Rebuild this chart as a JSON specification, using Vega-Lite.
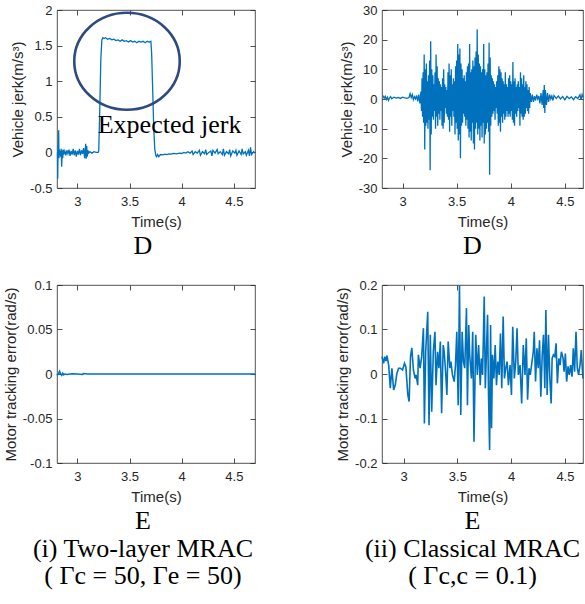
{
  "$schema": "https://vega.github.io/schema/vega-lite/v6.json",
  "padding": {"left": 2, "top": 3, "right": 0, "bottom": 0},
  "background": "white",
  "config": {
    "view": {"stroke": "#262626", "strokeWidth": 0.8},
    "axis": {"grid": false, "domain": false, "tickColor": "#262626", "tickSize": -5, "tickWidth": 0.8,
      "labelFont": "Liberation Sans", "labelFontSize": 13, "labelColor": "#262626",
      "titleFont": "Liberation Sans", "titleFontSize": 15, "titleFontWeight": "normal", "titleColor": "#262626",
      "titlePadding": 6, "format": "~r", "labelExpr": "replace(datum.label, '\u2212', '-')"},
    "axisX": {"labelPadding": 12},
    "axisY": {"labelPadding": 10, "titlePadding": 4},
    "title": {"font": "Liberation Serif", "fontSize": 26, "fontWeight": "normal", "color": "#000000", "orient": "bottom", "anchor": "middle", "offset": 4, "lineHeight": 28,
      "subtitleFont": "Liberation Serif", "subtitleFontSize": 26, "subtitleColor": "#000000", "subtitlePadding": 1},
    "line": {"color": "#0072BD", "strokeWidth": 1.3}
  },
  "datasets": {
    "jerkA": [
      {"t":2.810,"v":0.00},{"t":2.812,"v":-0.37},{"t":2.815,"v":0.10},{"t":2.818,"v":-0.05},{"t":2.821,"v":0.31},{"t":2.824,"v":-0.08},{"t":2.828,"v":0.04},{"t":2.832,"v":-0.02},{"t":2.836,"v":0.02},{"t":2.840,"v":-0.06},{"t":2.845,"v":0.05},{"t":2.850,"v":-0.20},{"t":2.855,"v":0.03},{"t":2.860,"v":-0.08},{"t":2.865,"v":0.04},{"t":2.870,"v":-0.03},{"t":2.880,"v":0.02},{"t":2.890,"v":-0.04},{"t":2.900,"v":0.03},{"t":2.910,"v":-0.02},{"t":2.920,"v":0.04},{"t":2.930,"v":-0.05},{"t":2.940,"v":0.02},{"t":2.950,"v":-0.03},{"t":2.960,"v":0.05},{"t":2.970,"v":-0.04},{"t":2.980,"v":0.03},{"t":2.990,"v":-0.06},{"t":3.000,"v":0.02},{"t":3.010,"v":-0.03},{"t":3.020,"v":0.05},{"t":3.030,"v":-0.04},{"t":3.040,"v":0.03},{"t":3.050,"v":-0.02},{"t":3.060,"v":0.06},{"t":3.070,"v":-0.08},{"t":3.080,"v":0.12},{"t":3.085,"v":-0.09},{"t":3.090,"v":0.09},{"t":3.095,"v":-0.06},{"t":3.100,"v":0.03},{"t":3.110,"v":-0.01},{"t":3.120,"v":0.01},{"t":3.140,"v":-0.01},{"t":3.160,"v":0.01},{"t":3.180,"v":0.00},{"t":3.200,"v":0.00},{"t":3.205,"v":0.02},{"t":3.215,"v":0.60},{"t":3.225,"v":1.30},{"t":3.235,"v":1.58},{"t":3.245,"v":1.61},{"t":3.255,"v":1.60},{"t":3.27,"v":1.61},{"t":3.29,"v":1.59},{"t":3.31,"v":1.60},{"t":3.33,"v":1.58},{"t":3.35,"v":1.59},{"t":3.37,"v":1.57},{"t":3.39,"v":1.58},{"t":3.41,"v":1.56},{"t":3.43,"v":1.58},{"t":3.45,"v":1.56},{"t":3.47,"v":1.57},{"t":3.49,"v":1.55},{"t":3.51,"v":1.57},{"t":3.53,"v":1.55},{"t":3.55,"v":1.56},{"t":3.57,"v":1.54},{"t":3.59,"v":1.56},{"t":3.61,"v":1.55},{"t":3.63,"v":1.56},{"t":3.65,"v":1.54},{"t":3.67,"v":1.56},{"t":3.69,"v":1.55},{"t":3.705,"v":1.56},{"t":3.712,"v":1.40},{"t":3.722,"v":0.90},{"t":3.732,"v":0.35},{"t":3.742,"v":0.05},{"t":3.752,"v":-0.04},{"t":3.76,"v":-0.06},{"t":3.77,"v":-0.03},{"t":3.78,"v":-0.06},{"t":3.79,"v":-0.04},{"t":3.80,"v":-0.03},{"t":3.82,"v":-0.035},{"t":3.84,"v":-0.025},{"t":3.86,"v":-0.03},{"t":3.88,"v":-0.02},{"t":3.90,"v":-0.025},{"t":3.92,"v":-0.015},{"t":3.95,"v":-0.02},{"t":3.98,"v":-0.01},{"t":4.00,"v":-0.015},{"t":4.02,"v":0.00},{"t":4.04,"v":-0.01},{"t":4.06,"v":0.01},
      {"t":4.08,"v":-0.01},{"t":4.10,"v":0.02},{"t":4.11,"v":-0.03},{"t":4.13,"v":0.01},{"t":4.15,"v":-0.01},{"t":4.17,"v":0.03},{"t":4.18,"v":-0.04},{"t":4.20,"v":0.01},{"t":4.22,"v":-0.02},{"t":4.23,"v":0.04},{"t":4.24,"v":-0.03},{"t":4.26,"v":0.0},{"t":4.28,"v":0.02},{"t":4.29,"v":-0.05},{"t":4.30,"v":0.03},{"t":4.32,"v":-0.01},{"t":4.34,"v":0.04},{"t":4.35,"v":-0.02},{"t":4.37,"v":0.01},{"t":4.39,"v":-0.03},{"t":4.40,"v":0.05},{"t":4.41,"v":-0.04},{"t":4.43,"v":0.01},{"t":4.45,"v":-0.02},{"t":4.46,"v":0.04},{"t":4.47,"v":-0.05},{"t":4.49,"v":0.02},{"t":4.51,"v":-0.01},{"t":4.52,"v":0.03},{"t":4.53,"v":-0.04},{"t":4.55,"v":0.02},{"t":4.57,"v":-0.03},{"t":4.58,"v":0.05},{"t":4.59,"v":-0.02},{"t":4.61,"v":0.01},{"t":4.62,"v":-0.04},{"t":4.64,"v":0.03},{"t":4.65,"v":-0.05},{"t":4.66,"v":0.07},{"t":4.67,"v":-0.03},{"t":4.69,"v":0.01},{"t":4.70,"v":-0.01}
    ],
    "jerkB": [
      {"t":2.816,"v":1.2},{"t":2.83,"v":0.3},{"t":2.84,"v":0.9},{"t":2.85,"v":-0.2},{"t":2.86,"v":0.6},{"t":2.87,"v":-0.5},{"t":2.88,"v":0.4},{"t":2.89,"v":0.8},{"t":2.90,"v":0.1},{"t":2.92,"v":0.6},{"t":2.94,"v":0.3},{"t":2.96,"v":0.5},{"t":2.98,"v":0.2},{"t":3.00,"v":0.6},{"t":3.02,"v":0.4},{"t":3.04,"v":0.2},{"t":3.06,"v":0.5},{"t":3.07,"v":1.8},{"t":3.08,"v":0.5},{"t":3.09,"v":1.5},{"t":3.10,"v":-0.2},{"t":3.11,"v":0.8},{"t":3.12,"v":0.0},{"t":3.13,"v":1.2},{"t":3.14,"v":-0.8},{"t":3.15,"v":1.5},{"t":3.16,"v":-1.5},{"t":3.17,"v":2.5},{"t":3.175,"v":-4},{"t":3.18,"v":7},{"t":3.185,"v":-6},{"t":3.19,"v":9},{"t":3.195,"v":-8},{"t":3.20,"v":15},{"t":3.205,"v":-17},{"t":3.21,"v":10},{"t":3.215,"v":-9},{"t":3.22,"v":12},{"t":3.225,"v":-8},{"t":3.23,"v":6},{"t":3.235,"v":-10},{"t":3.24,"v":8},{"t":3.245,"v":-7},{"t":3.25,"v":13},{"t":3.255,"v":-24},{"t":3.26,"v":19.5},{"t":3.265,"v":-12},{"t":3.27,"v":10},{"t":3.275,"v":-6},{"t":3.28,"v":8},{"t":3.285,"v":-7},{"t":3.29,"v":5},{"t":3.295,"v":-4},{"t":3.30,"v":9},{"t":3.305,"v":-10},{"t":3.31,"v":15},{"t":3.315,"v":-6},{"t":3.32,"v":11},{"t":3.325,"v":-9},{"t":3.33,"v":7},{"t":3.335,"v":-5},{"t":3.34,"v":6},{"t":3.345,"v":-7},{"t":3.35,"v":5},{"t":3.355,"v":-4},{"t":3.36,"v":4},{"t":3.365,"v":-9},{"t":3.37,"v":7},{"t":3.375,"v":-10},{"t":3.38,"v":10},{"t":3.385,"v":-8},{"t":3.39,"v":5},{"t":3.395,"v":-3},{"t":3.40,"v":4},{"t":3.405,"v":-5},{"t":3.41,"v":3},{"t":3.415,"v":-6},{"t":3.42,"v":9},{"t":3.425,"v":-7},{"t":3.43,"v":12},{"t":3.435,"v":-11},{"t":3.44,"v":8},{"t":3.445,"v":-6},{"t":3.45,"v":10},{"t":3.455,"v":-9},{"t":3.46,"v":5},{"t":3.465,"v":-4},{"t":3.47,"v":7},{"t":3.475,"v":-6},{"t":3.48,"v":6},{"t":3.485,"v":-12},{"t":3.49,"v":11},{"t":3.495,"v":-8},{"t":3.50,"v":13},{"t":3.505,"v":-10},{"t":3.51,"v":18.5},{"t":3.515,"v":-14},{"t":3.52,"v":15},{"t":3.525,"v":-12},{"t":3.53,"v":17},{"t":3.535,"v":-20},{"t":3.54,"v":12},{"t":3.545,"v":-9},{"t":3.55,"v":10},{"t":3.555,"v":-8},{"t":3.56,"v":7},{"t":3.565,"v":-5},{"t":3.57,"v":8},{"t":3.575,"v":-6},{"t":3.58,"v":6},{"t":3.585,"v":-9},{"t":3.59,"v":9},{"t":3.595,"v":-7},{"t":3.60,"v":11},{"t":3.605,"v":-10},{"t":3.61,"v":12},{"t":3.615,"v":-13},{"t":3.62,"v":18.5},{"t":3.625,"v":-11},{"t":3.63,"v":9},{"t":3.635,"v":-14},{"t":3.64,"v":10},{"t":3.645,"v":-8},{"t":3.65,"v":13},{"t":3.655,"v":-15},{"t":3.66,"v":11},{"t":3.665,"v":-17},{"t":3.67,"v":14},{"t":3.675,"v":-10},{"t":3.68,"v":16},{"t":3.685,"v":-8},{"t":3.69,"v":23.5},{"t":3.695,"v":-12},{"t":3.70,"v":15},{"t":3.705,"v":-10},{"t":3.71,"v":12},{"t":3.715,"v":-14},{"t":3.72,"v":11},{"t":3.725,"v":-9},{"t":3.73,"v":9},{"t":3.735,"v":-13},{"t":3.74,"v":10},{"t":3.745,"v":-8},{"t":3.75,"v":18.5},{"t":3.755,"v":-15},{"t":3.76,"v":10},{"t":3.765,"v":-12},{"t":3.77,"v":8},{"t":3.775,"v":-10},{"t":3.78,"v":9},{"t":3.785,"v":-8},{"t":3.79,"v":12},{"t":3.795,"v":-11},{"t":3.80,"v":19},{"t":3.805,"v":-25.5},{"t":3.81,"v":14},{"t":3.815,"v":-9},{"t":3.82,"v":8},{"t":3.825,"v":-6},{"t":3.83,"v":7},{"t":3.835,"v":-5},{"t":3.84,"v":6},{"t":3.845,"v":-4},{"t":3.85,"v":5},{"t":3.855,"v":-7},{"t":3.86,"v":4},{"t":3.865,"v":-3},{"t":3.87,"v":6},{"t":3.875,"v":-5},{"t":3.88,"v":8},{"t":3.885,"v":-9},{"t":3.89,"v":11},{"t":3.895,"v":-8},{"t":3.90,"v":10},{"t":3.905,"v":-11},{"t":3.91,"v":9},{"t":3.915,"v":-6},{"t":3.92,"v":7},{"t":3.925,"v":-8},{"t":3.93,"v":6},{"t":3.935,"v":-5},{"t":3.94,"v":5},{"t":3.945,"v":-7},{"t":3.95,"v":9},{"t":3.955,"v":-6},{"t":3.96,"v":5},{"t":3.965,"v":-4},{"t":3.97,"v":4},{"t":3.975,"v":-6},{"t":3.98,"v":7},{"t":3.985,"v":-5},{"t":3.99,"v":8},{"t":3.995,"v":-6},{"t":4.00,"v":6},{"t":4.005,"v":-4},{"t":4.01,"v":5},{"t":4.015,"v":-7},{"t":4.02,"v":12.5},{"t":4.025,"v":-8},{"t":4.03,"v":6},{"t":4.035,"v":-9},{"t":4.04,"v":7},{"t":4.045,"v":-5},{"t":4.05,"v":4},{"t":4.055,"v":-6},{"t":4.06,"v":5},{"t":4.065,"v":-4},{"t":4.07,"v":6},{"t":4.075,"v":-3},{"t":4.08,"v":4},{"t":4.085,"v":-9},{"t":4.09,"v":9},{"t":4.095,"v":-5},{"t":4.10,"v":7},{"t":4.105,"v":-6},{"t":4.11,"v":5},{"t":4.115,"v":-7},{"t":4.12,"v":8},{"t":4.125,"v":-6},{"t":4.13,"v":4},{"t":4.135,"v":-5},{"t":4.14,"v":6},{"t":4.145,"v":-3},{"t":4.15,"v":5},{"t":4.155,"v":-4},{"t":4.16,"v":3},{"t":4.165,"v":-5},{"t":4.17,"v":4},{"t":4.175,"v":-3},{"t":4.18,"v":2},{"t":4.19,"v":-1},{"t":4.20,"v":1.5},{"t":4.21,"v":-1},{"t":4.22,"v":1},{"t":4.23,"v":-0.5},{"t":4.24,"v":1.5},{"t":4.25,"v":0},{"t":4.26,"v":1},{"t":4.27,"v":-1.5},{"t":4.28,"v":2},{"t":4.29,"v":-2},{"t":4.30,"v":3},{"t":4.305,"v":-3},{"t":4.31,"v":4.7},{"t":4.315,"v":-4.7},{"t":4.32,"v":3},{"t":4.33,"v":-2},{"t":4.34,"v":2},{"t":4.35,"v":-1},{"t":4.36,"v":1.5},{"t":4.37,"v":0},{"t":4.38,"v":1},{"t":4.39,"v":-0.5},{"t":4.40,"v":1.2},{"t":4.42,"v":0.2},{"t":4.44,"v":1},{"t":4.46,"v":0},{"t":4.48,"v":0.8},{"t":4.50,"v":-0.3},{"t":4.52,"v":0.9},{"t":4.54,"v":0.1},{"t":4.56,"v":0.7},{"t":4.58,"v":-0.2},{"t":4.60,"v":0.8},{"t":4.62,"v":0.2},{"t":4.64,"v":1.4},{"t":4.65,"v":-0.3},{"t":4.66,"v":1.5},{"t":4.67,"v":0.5}
    ],
    "errA": [
      {"t":2.805,"v":0.0},{"t":2.81,"v":-0.001},{"t":2.82,"v":0.0005},{"t":2.83,"v":0.003},{"t":2.84,"v":0.0},{"t":2.85,"v":-0.0015},{"t":2.86,"v":0.001},{"t":2.87,"v":-0.001},{"t":2.88,"v":0.0},{"t":2.90,"v":-0.0005},{"t":2.95,"v":0.0002},{"t":3.00,"v":0.0},{"t":3.05,"v":-0.0005},{"t":3.06,"v":0.0005},{"t":3.1,"v":0.0},{"t":3.5,"v":0.0},{"t":4.0,"v":0.0},{"t":4.5,"v":0.0},{"t":4.703,"v":0.0}
    ],
    "errB": [
      {"t":2.800,"v":0.039},{"t":2.815,"v":0.024},{"t":2.825,"v":0.039},{"t":2.837,"v":0.029},{"t":2.846,"v":0.041},{"t":2.862,"v":0.020},{"t":2.877,"v":-0.032},{"t":2.892,"v":0.013},{"t":2.908,"v":-0.036},{"t":2.923,"v":-0.025},{"t":2.938,"v":0.001},{"t":2.954,"v":0.013},{"t":2.969,"v":0.013},{"t":2.991,"v":0.009},{"t":3.009,"v":0.024},{"t":3.022,"v":0.016},{"t":3.040,"v":-0.047},{"t":3.052,"v":-0.062},{"t":3.065,"v":0.039},{"t":3.077,"v":0.059},{"t":3.092,"v":0.009},{"t":3.108,"v":-0.010},{"t":3.117,"v":-0.002},{"t":3.132,"v":-0.025},{"t":3.138,"v":0.043},{"t":3.154,"v":0.013},{"t":3.169,"v":0.039},{"t":3.185,"v":0.103},{"t":3.194,"v":-0.111},{"t":3.206,"v":0.050},{"t":3.225,"v":0.140},{"t":3.237,"v":-0.115},{"t":3.249,"v":0.088},{"t":3.262,"v":-0.085},{"t":3.277,"v":0.050},{"t":3.292,"v":0.095},{"t":3.302,"v":-0.025},{"t":3.317,"v":0.050},{"t":3.329,"v":0.013},{"t":3.342,"v":0.073},{"t":3.354,"v":-0.088},{"t":3.369,"v":0.065},{"t":3.378,"v":0.050},{"t":3.391,"v":0.005},{"t":3.403,"v":-0.047},{"t":3.415,"v":0.073},{"t":3.431,"v":0.013},{"t":3.440,"v":0.028},{"t":3.455,"v":-0.002},{"t":3.471,"v":-0.017},{"t":3.483,"v":0.020},{"t":3.495,"v":0.095},{"t":3.508,"v":-0.070},{"t":3.520,"v":0.200},{"t":3.532,"v":-0.092},{"t":3.545,"v":0.095},{"t":3.557,"v":0.028},{"t":3.569,"v":0.013},{"t":3.585,"v":0.148},{"t":3.594,"v":-0.070},{"t":3.606,"v":0.110},{"t":3.615,"v":0.043},{"t":3.631,"v":-0.010},{"t":3.643,"v":0.095},{"t":3.655,"v":-0.152},{"t":3.671,"v":0.088},{"t":3.686,"v":-0.002},{"t":3.698,"v":0.065},{"t":3.713,"v":-0.025},{"t":3.723,"v":0.035},{"t":3.735,"v":-0.002},{"t":3.750,"v":0.174},{"t":3.760,"v":-0.032},{"t":3.769,"v":0.035},{"t":3.781,"v":0.133},{"t":3.790,"v":-0.047},{"t":3.800,"v":-0.171},{"t":3.809,"v":0.110},{"t":3.818,"v":-0.122},{"t":3.827,"v":0.043},{"t":3.840,"v":-0.010},{"t":3.852,"v":0.065},{"t":3.864,"v":-0.025},{"t":3.876,"v":0.028},{"t":3.889,"v":-0.002},{"t":3.901,"v":0.091},{"t":3.913,"v":-0.032},{"t":3.926,"v":0.129},{"t":3.938,"v":-0.010},{"t":3.950,"v":0.013},{"t":3.963,"v":0.028},{"t":3.975,"v":-0.025},{"t":3.990,"v":0.020},{"t":4.003,"v":-0.047},{"t":4.015,"v":0.106},{"t":4.030,"v":-0.010},{"t":4.043,"v":0.028},{"t":4.055,"v":0.103},{"t":4.067,"v":-0.002},{"t":4.083,"v":0.020},{"t":4.098,"v":-0.066},{"t":4.113,"v":0.065},{"t":4.129,"v":-0.002},{"t":4.141,"v":0.080},{"t":4.153,"v":-0.058},{"t":4.166,"v":0.013},{"t":4.178,"v":-0.002},{"t":4.190,"v":0.020},{"t":4.206,"v":0.050},{"t":4.215,"v":0.095},{"t":4.227,"v":-0.017},{"t":4.240,"v":0.058},{"t":4.252,"v":0.013},{"t":4.264,"v":0.076},{"t":4.276,"v":-0.051},{"t":4.289,"v":0.043},{"t":4.301,"v":0.088},{"t":4.313,"v":-0.032},{"t":4.323,"v":0.144},{"t":4.335,"v":-0.047},{"t":4.347,"v":0.088},{"t":4.360,"v":-0.010},{"t":4.372,"v":-0.066},{"t":4.381,"v":0.035},{"t":4.393,"v":0.043},{"t":4.406,"v":0.039},{"t":4.418,"v":0.069},{"t":4.430,"v":-0.021},{"t":4.443,"v":0.035},{"t":4.455,"v":0.020},{"t":4.467,"v":0.050},{"t":4.483,"v":0.035},{"t":4.492,"v":0.005},{"t":4.504,"v":0.046},{"t":4.516,"v":-0.017},{"t":4.529,"v":0.017},{"t":4.541,"v":-0.002},{"t":4.553,"v":0.020},{"t":4.566,"v":-0.006},{"t":4.578,"v":0.058},{"t":4.590,"v":0.005},{"t":4.603,"v":0.095},{"t":4.615,"v":0.013},{"t":4.627,"v":-0.002},{"t":4.640,"v":0.020},{"t":4.652,"v":0.054},{"t":4.667,"v":-0.010}
    ]
  },
  "columns": 2,
  "bounds": "flush",
  "spacing": {"row": 97, "column": 127},
  "concat": [
    {
      "width": 198, "height": 178,
      "title": {"text": "D", "dx": -13},
      "layer": [
        {"data": {"name": "jerkA"}, "mark": {"type": "line"},
          "encoding": {
            "x": {"field": "t", "type": "quantitative", "scale": {"domain": [2.805, 4.703], "nice": false, "zero": false}, "axis": {"orient": "bottom", "values": [3, 3.5, 4, 4.5], "title": "Time(s)"}},
            "y": {"field": "v", "type": "quantitative", "scale": {"domain": [-0.5, 2], "nice": false, "zero": false}, "axis": {"orient": "left", "values": [-0.5, 0, 0.5, 1, 1.5, 2], "title": "Vehicle jerk(m/s³)"}}
          }},
        {"data": {"name": "jerkA"}, "mark": {"type": "point", "opacity": 0},
          "encoding": {
            "x": {"field": "t", "type": "quantitative", "scale": {"domain": [2.805, 4.703], "nice": false, "zero": false}, "axis": {"orient": "top", "values": [3, 3.5, 4, 4.5], "labels": false, "title": null}},
            "y": {"field": "v", "type": "quantitative", "scale": {"domain": [-0.5, 2], "nice": false, "zero": false}, "axis": {"orient": "right", "values": [-0.5, 0, 0.5, 1, 1.5, 2], "labels": false, "title": null}}
          }},
        {"data": {"values": [{"t": 3.476, "v": 1.28}]},
          "mark": {"type": "point", "shape": "M-1,0A1,0.92,0,1,0,1,0A1,0.92,0,1,0,-1,0Z", "size": 11130, "filled": false, "stroke": "#2E4A7F", "strokeWidth": 2.6, "opacity": 1},
          "encoding": {
            "x": {"field": "t", "type": "quantitative", "scale": {"domain": [2.805, 4.703], "nice": false, "zero": false}, "axis": null},
            "y": {"field": "v", "type": "quantitative", "scale": {"domain": [-0.5, 2], "nice": false, "zero": false}, "axis": null}
          }},
        {"data": {"values": [{"t": 3.884, "v": 0.27, "label": "Expected jerk"}]},
          "mark": {"type": "text", "font": "Liberation Serif", "fontSize": 26, "color": "#000000", "align": "center", "baseline": "alphabetic"},
          "encoding": {
            "x": {"field": "t", "type": "quantitative", "scale": {"domain": [2.805, 4.703], "nice": false, "zero": false}, "axis": null},
            "y": {"field": "v", "type": "quantitative", "scale": {"domain": [-0.5, 2], "nice": false, "zero": false}, "axis": null},
            "text": {"field": "label"}
          }}
      ],
      "resolve": {"axis": {"x": "independent", "y": "independent"}}
    },
    {
      "width": 201, "height": 178,
      "title": {"text": "D", "dx": -10},
      "layer": [
        {"data": {"name": "jerkB"}, "mark": {"type": "line"},
          "encoding": {
            "x": {"field": "t", "type": "quantitative", "scale": {"domain": [2.81, 4.668], "nice": false, "zero": false}, "axis": {"orient": "bottom", "values": [3, 3.5, 4, 4.5], "title": "Time(s)"}},
            "y": {"field": "v", "type": "quantitative", "scale": {"domain": [-30, 30], "nice": false}, "axis": {"orient": "left", "values": [-30, -20, -10, 0, 10, 20, 30], "title": "Vehicle jerk(m/s³)"}}
          }},
        {"data": {"name": "jerkB"}, "mark": {"type": "point", "opacity": 0},
          "encoding": {
            "x": {"field": "t", "type": "quantitative", "scale": {"domain": [2.81, 4.668], "nice": false, "zero": false}, "axis": {"orient": "top", "values": [3, 3.5, 4, 4.5], "labels": false, "title": null}},
            "y": {"field": "v", "type": "quantitative", "scale": {"domain": [-30, 30], "nice": false}, "axis": {"orient": "right", "values": [-30, -20, -10, 0, 10, 20, 30], "labels": false, "title": null}}
          }}
      ],
      "resolve": {"axis": {"x": "independent", "y": "independent"}}
    },
    {
      "width": 198, "height": 178,
      "title": {"text": ["E", "(i) Two-layer MRAC"], "subtitle": "( Γc = 50,  Γe = 50)", "dx": -13},
      "layer": [
        {"data": {"name": "errA"}, "mark": {"type": "line", "strokeWidth": 1.6},
          "encoding": {
            "x": {"field": "t", "type": "quantitative", "scale": {"domain": [2.805, 4.703], "nice": false, "zero": false}, "axis": {"orient": "bottom", "values": [3, 3.5, 4, 4.5], "title": "Time(s)"}},
            "y": {"field": "v", "type": "quantitative", "scale": {"domain": [-0.1, 0.1], "nice": false}, "axis": {"orient": "left", "values": [-0.1, -0.05, 0, 0.05, 0.1], "title": "Motor tracking error(rad/s)"}}
          }},
        {"data": {"name": "errA"}, "mark": {"type": "point", "opacity": 0},
          "encoding": {
            "x": {"field": "t", "type": "quantitative", "scale": {"domain": [2.805, 4.703], "nice": false, "zero": false}, "axis": {"orient": "top", "values": [3, 3.5, 4, 4.5], "labels": false, "title": null}},
            "y": {"field": "v", "type": "quantitative", "scale": {"domain": [-0.1, 0.1], "nice": false}, "axis": {"orient": "right", "values": [-0.1, -0.05, 0, 0.05, 0.1], "labels": false, "title": null}}
          }}
      ],
      "resolve": {"axis": {"x": "independent", "y": "independent"}}
    },
    {
      "width": 201, "height": 178,
      "title": {"text": ["E", "(ii) Classical MRAC"], "subtitle": "( Γc,c = 0.1)", "dx": -10},
      "layer": [
        {"data": {"name": "errB"}, "mark": {"type": "line", "strokeWidth": 1.6},
          "encoding": {
            "x": {"field": "t", "type": "quantitative", "scale": {"domain": [2.8, 4.668], "nice": false, "zero": false}, "axis": {"orient": "bottom", "values": [3, 3.5, 4, 4.5], "title": "Time(s)"}},
            "y": {"field": "v", "type": "quantitative", "scale": {"domain": [-0.2, 0.2], "nice": false}, "axis": {"orient": "left", "values": [-0.2, -0.1, 0, 0.1, 0.2], "title": "Motor tracking error(rad/s)"}}
          }},
        {"data": {"name": "errB"}, "mark": {"type": "point", "opacity": 0},
          "encoding": {
            "x": {"field": "t", "type": "quantitative", "scale": {"domain": [2.8, 4.668], "nice": false, "zero": false}, "axis": {"orient": "top", "values": [3, 3.5, 4, 4.5], "labels": false, "title": null}},
            "y": {"field": "v", "type": "quantitative", "scale": {"domain": [-0.2, 0.2], "nice": false}, "axis": {"orient": "right", "values": [-0.2, -0.1, 0, 0.1, 0.2], "labels": false, "title": null}}
          }}
      ],
      "resolve": {"axis": {"x": "independent", "y": "independent"}}
    }
  ]
}
